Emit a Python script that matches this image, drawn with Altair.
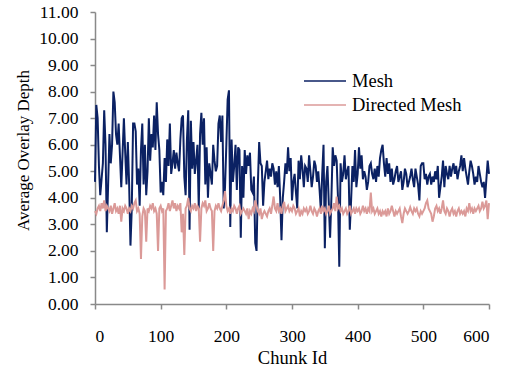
import altair as alt
import pandas as pd

# Chunk ids (every second chunk)
chunk_id = list(range(0, 601, 2))

mesh = [
    4.6, 7.5, 7.0, 5.2, 4.1, 4.7, 5.3, 7.3, 6.0, 2.7,
    4.5, 6.4, 5.3, 6.0, 8.0, 7.6, 6.4, 6.0, 6.8, 5.6,
    4.4, 5.7, 7.0, 5.7, 4.5, 6.1, 4.5, 2.2, 3.6, 6.8,
    6.8, 6.5, 4.5, 5.1, 3.7, 5.8, 6.8, 4.5, 6.0, 4.1,
    5.0, 7.0, 5.4, 6.4, 5.9, 7.1, 5.8, 7.6, 6.4, 5.8,
    4.2, 4.6, 4.1, 5.5, 4.6, 6.2, 5.2, 6.8, 4.9, 5.3,
    5.8, 5.1, 5.7, 5.3, 5.0, 6.2, 7.0, 7.1, 4.8, 4.1,
    6.2, 7.3, 2.8, 6.9, 5.1, 6.1, 4.9, 5.4, 6.0, 3.6,
    6.4, 7.2, 6.0, 7.0, 4.5, 5.9, 4.0, 5.3, 4.9, 4.5,
    6.0, 5.4, 5.0, 5.2, 6.8, 7.1, 6.1, 7.1, 3.6, 4.4,
    6.0, 7.7, 8.05, 2.9, 6.2, 4.6, 5.2, 6.0, 4.3, 5.9,
    5.8, 2.5, 5.2, 4.0, 5.8, 4.9, 5.6, 5.2, 5.7, 4.3,
    4.2, 4.8, 2.3, 2.0, 4.5, 6.1, 5.3, 5.2, 3.7, 4.6,
    5.0, 5.4, 4.7, 5.1, 4.8, 5.3, 5.1, 4.5, 5.0, 4.4,
    5.2, 4.0, 2.4, 4.0, 4.6, 5.3, 4.9, 5.9, 5.0, 5.5,
    3.9, 4.6, 4.9, 4.2, 3.6, 5.4, 4.7, 5.6, 5.1, 4.4,
    5.2, 5.1, 4.6, 5.6, 5.0, 4.4, 4.8, 5.4, 5.2, 4.6,
    5.0, 4.3, 3.5, 4.9, 6.0, 2.1, 4.6, 5.2, 3.8, 2.5,
    4.0, 5.9, 5.2, 5.6, 5.4, 4.0, 1.4, 5.3, 4.6, 4.9,
    5.6, 4.7, 5.0, 5.2, 2.8, 3.9, 5.2, 4.6, 5.8, 4.4,
    4.9, 5.9, 5.1, 5.6, 4.7, 5.0, 4.8, 4.3, 4.6, 5.2,
    5.3, 4.9, 4.7, 5.1, 4.6, 5.2, 4.8, 5.5, 5.8, 6.0,
    5.3, 4.8, 5.5, 4.9, 5.3, 4.6, 5.1, 4.5, 4.7, 5.0,
    5.2, 4.6, 4.8, 5.0, 4.3, 4.6, 5.1, 4.9, 4.4, 4.6,
    4.8, 5.1, 4.7, 4.4, 5.1, 4.8, 4.5, 3.9, 5.2, 5.3,
    5.3, 4.7, 4.9, 4.5, 4.8, 4.9, 4.5, 4.8, 4.6, 5.0,
    4.7, 5.2, 4.0, 4.4, 4.8, 5.4, 4.4, 5.2, 4.9, 4.7,
    5.2, 4.8, 5.1, 5.3, 4.9, 5.2, 4.7, 5.0, 5.2, 5.6,
    5.0, 5.5, 5.1, 4.8, 4.5, 5.0, 5.4, 5.2, 4.9, 4.5,
    4.8, 4.6, 5.2, 4.9, 4.6, 4.4, 4.6, 4.0, 4.7, 5.4,
    4.9,
]

directed_mesh = [
    3.5, 3.4, 3.6, 3.7, 3.5, 3.8, 3.6, 3.9, 3.5, 3.7,
    3.6, 3.5, 3.7, 3.4, 3.6, 3.8, 3.5, 3.6, 3.4, 3.7,
    3.1, 3.6, 3.5, 3.7, 3.6, 3.4, 3.6, 3.5, 3.7, 3.6,
    3.8, 3.9, 3.5, 3.6, 3.4, 1.7, 3.3, 3.6, 3.5, 2.35,
    3.6, 3.5, 3.7, 3.6, 3.8, 3.5, 3.6, 3.4, 2.0, 3.6,
    3.7, 3.5, 3.6, 0.55, 3.5, 3.6, 3.8, 3.5, 3.7, 3.9,
    3.6, 3.8, 3.5, 3.7, 3.6, 3.8, 2.7, 3.4, 1.85, 3.6,
    3.7, 4.0, 3.6, 3.5, 3.7, 3.6, 3.8, 3.5, 3.7, 3.6,
    2.35, 3.6, 3.8, 3.7, 3.9, 3.5, 3.6, 3.8, 3.6, 3.5,
    2.0, 3.5, 3.7, 3.6, 3.8, 3.6, 3.5, 3.7, 3.9, 4.25,
    3.7, 3.5, 3.6, 3.4, 3.6, 3.5, 3.7, 3.6, 3.4, 3.6,
    3.7, 3.4, 3.5, 3.6, 3.5, 3.4, 3.6, 3.2, 3.5, 3.4,
    3.6, 3.5, 3.9, 3.7, 3.5, 3.4, 3.6, 3.2, 3.4, 3.5,
    3.4, 3.3, 3.5, 3.6, 3.4, 3.7, 4.05, 3.6, 3.5, 3.8,
    3.5, 3.6, 3.4, 3.7, 3.85, 3.5, 3.6, 3.7, 3.5, 3.6,
    3.5, 3.7, 3.6, 3.4, 3.5, 3.6, 3.3, 3.5, 3.4, 3.6,
    3.5, 3.6, 3.4, 3.5, 3.7, 3.5, 3.4, 3.6, 3.5, 3.3,
    3.5, 3.6, 3.4, 3.7, 3.5, 3.6, 3.4, 3.5, 3.7, 3.4,
    3.5, 3.6, 3.8, 3.5, 4.05, 3.6, 3.7, 3.5, 3.6, 3.4,
    3.5, 3.6, 3.4, 3.5, 3.7, 3.4, 3.5, 3.6, 3.4, 3.6,
    3.5, 3.6, 3.4, 3.5, 3.7, 3.5, 3.6, 3.4, 3.6, 3.5,
    4.2, 3.5, 3.6, 3.4, 3.5, 3.6, 3.4, 3.5, 3.3, 3.5,
    3.4, 3.5, 3.3, 3.6, 3.4, 3.5, 3.7, 3.5, 3.3, 3.5,
    3.4, 3.5, 3.6, 3.3, 3.05, 3.4, 3.6, 3.5, 3.4, 3.5,
    3.65, 3.5, 3.4, 3.6, 3.5, 3.6, 3.4, 3.3, 3.5, 3.4,
    3.5, 3.6, 3.8, 3.9, 3.6, 3.5, 3.4, 3.1, 3.3, 3.6,
    3.7, 3.5, 3.6, 3.4, 3.6, 3.9, 3.5, 3.4, 3.6, 3.5,
    3.3, 3.5, 3.6, 3.4, 3.5, 3.3, 3.5, 3.6, 3.4, 3.5,
    3.4, 3.5, 3.3, 3.6, 3.5, 3.8, 3.5, 3.6, 3.4, 3.6,
    3.5, 3.6, 3.7, 3.5, 3.6, 3.85, 3.6, 3.7, 3.9, 3.2,
    3.8,
]

series_names = ["Mesh", "Directed Mesh"]
series_colors = ["#0B2163", "#DB9A98"]
y_ticks = list(range(0, 12))
x_ticks = list(range(0, 601, 100))

df = pd.DataFrame({"Chunk Id": chunk_id, "Mesh": mesh, "Directed Mesh": directed_mesh})
long = df.melt(id_vars="Chunk Id", var_name="Series", value_name="Depth")

FONT = "Liberation Serif"

color = alt.Color(
    "Series:N",
    scale=alt.Scale(domain=series_names, range=series_colors),
    legend=alt.Legend(
        title=None,
        orient="none",
        legendX=208,
        legendY=58,
        symbolType="stroke",
        symbolSize=1764,
        symbolStrokeWidth=1.5,
        clipHeight=22,
        labelFont=FONT,
        labelFontSize=18.5,
        labelColor="#000000",
        labelOffset=5,
        rowPadding=2,
        padding=0,
    ),
)

x = alt.X(
    "Chunk Id:Q",
    scale=alt.Scale(domain=[0, 600], nice=False, zero=False),
    axis=alt.Axis(
        values=x_ticks,
        format="d",
        title="Chunk Id",
        labelPadding=18,
        titleBaseline="top",
        titleY=44,
        titleFontSize=18.5,
    ),
)
y = alt.Y(
    "Depth:Q",
    scale=alt.Scale(domain=[0, 11], nice=False),
    axis=alt.Axis(
        values=y_ticks,
        format=".2f",
        title="Average Overlay Depth",
        labelPadding=12,
        titleX=-63,
        titleY=138,
        titleFontSize=17,
    ),
)

base = alt.Chart(long)
mesh_layer = base.transform_filter(alt.datum.Series == "Mesh").mark_line(strokeWidth=2).encode(
    x=x, y=y, color=color
)
dir_layer = base.transform_filter(alt.datum.Series == "Directed Mesh").mark_line(strokeWidth=2).encode(
    x=x, y=y, color=color
)

chart = (
    alt.layer(mesh_layer, dir_layer)
    .properties(
        width=394,
        height=292,
        autosize=alt.AutoSizeParams(type="none"),
        padding={"left": 95, "top": 12, "right": 28, "bottom": 67},
    )
    .configure_view(stroke=None)
    .configure_axis(
        grid=False,
        domainColor="#898989",
        tickColor="#898989",
        domainWidth=1.5,
        tickWidth=1.5,
        tickSize=5,
        labelFont=FONT,
        labelFontSize=17.5,
        labelColor="#000000",
        titleFont=FONT,
        titleFontWeight="normal",
        titleColor="#000000",
    )
)

chart.save("out.html", embed_options={"renderer": "svg", "actions": False})
